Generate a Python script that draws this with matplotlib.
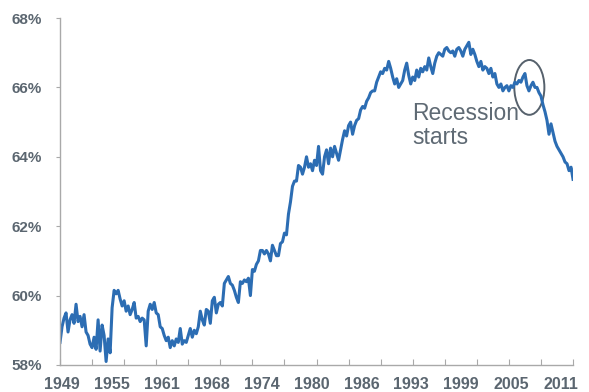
import matplotlib

matplotlib.use("Agg")
import matplotlib.pyplot as plt
import numpy as np
from matplotlib.patches import Ellipse

START_YEAR = 1948.75
rate = [
    58.65, 59.1, 59.35, 59.5, 58.95, 59.3, 59.45, 59.2, 59.75, 59.25,
    59.4, 59.1, 59.45, 58.95, 58.85, 58.6, 58.5, 58.8, 58.45, 59.3,
    58.4, 59.15, 58.85, 58.1, 58.75, 58.35, 59.65, 60.15, 60.05, 60.15,
    59.9, 59.7, 59.85, 59.55, 59.7, 59.45, 59.6, 59.8, 59.35, 59.4,
    59.25, 59.35, 59.3, 58.55, 59.55, 59.75, 59.6, 59.8, 59.5, 59.45,
    59.1, 59.05, 58.85, 58.7, 58.8, 58.5, 58.7, 58.55, 58.75, 58.65,
    59.05, 58.6, 58.7, 58.65, 58.85, 59.05, 58.8, 59.0, 58.9, 59.1,
    59.55, 59.3, 59.15, 59.6, 59.55, 59.2, 59.85, 59.95, 59.5, 59.75,
    59.8, 59.7, 60.35, 60.45, 60.55, 60.35, 60.3, 60.15, 59.95, 59.8,
    60.4, 60.35, 60.45, 60.4, 60.5, 60.0, 60.75, 60.7, 60.9, 61.0,
    61.3, 61.3, 61.2, 61.3, 61.2, 61.0, 61.45, 61.3, 61.15, 61.15,
    61.5, 61.55, 61.8, 61.75, 62.35, 62.7, 63.15, 63.3, 63.3, 63.75,
    63.7, 63.5, 63.7, 64.0, 63.7, 63.8, 63.6, 63.9, 63.75, 64.3,
    63.6, 63.5, 64.0, 64.2, 63.8, 64.25, 64.0, 64.3, 64.1, 63.9,
    64.2, 64.5, 64.75, 64.6, 64.9, 65.0, 64.65, 64.9, 65.05, 65.1,
    65.35, 65.45, 65.4, 65.6, 65.7, 65.85, 65.9, 65.9, 66.15, 66.3,
    66.45, 66.4, 66.55, 66.5, 66.75, 66.55, 66.3, 66.1, 66.25, 66.0,
    66.1, 66.2, 66.5, 66.7, 66.35, 66.1, 66.3, 66.2, 66.5, 66.3,
    66.55, 66.45, 66.6, 66.5, 66.85, 66.6, 66.4, 66.7, 66.9, 67.0,
    66.95, 66.9, 67.1, 67.15, 67.05, 67.0, 67.05, 66.9, 67.1, 67.15,
    67.05, 66.9, 67.1, 67.2, 67.3, 66.95, 67.1, 66.95, 66.75, 66.6,
    66.75, 66.5, 66.6, 66.55, 66.4, 66.55, 66.3, 66.4, 66.1, 66.0,
    66.1, 65.9, 66.0, 66.05, 65.9, 66.05, 66.0, 66.15, 66.1, 66.2,
    66.15, 66.3, 66.4, 66.05, 65.9, 66.05, 66.15, 66.0, 66.0, 65.85,
    65.75, 65.5, 65.3, 65.05, 64.65, 64.95, 64.7, 64.45, 64.3, 64.2,
    64.1, 64.0, 63.85, 63.8, 63.6, 63.7, 63.35,
]
year_labels = ["1949", "1955", "1961", "1968", "1974", "1980",
               "1986", "1993", "1999", "2005", "2011"]
y_ticks = [58, 60, 62, 64, 66, 68]

# the circled "recession starts" spot
RECESSION_YEAR = 2007.3
RECESSION_RATE = 66.0

years = START_YEAR + 0.25 * np.arange(len(rate))

GREY = "#5b6670"
AXIS = "#a9a9a9"

plt.rcParams["font.family"] = ["Liberation Sans", "DejaVu Sans"]

fig = plt.figure(figsize=(5.89, 3.92), dpi=100)
ax = fig.add_axes([0.1019, 0.069, 0.8710, 0.885])

ax.plot(years, rate, color="#2c6db3", lw=2.2, solid_joinstyle="round")

ax.set_xlim(years[0], years[-1])
ax.set_ylim(58, 68)

for s in ["top", "right"]:
    ax.spines[s].set_visible(False)
for s in ["left", "bottom"]:
    ax.spines[s].set_color(AXIS)
    ax.spines[s].set_linewidth(1.0)

ax.set_yticks(y_ticks, [f"{v}%" for v in y_ticks])
ax.tick_params(axis="y", direction="out", length=3, color=AXIS, pad=10,
               labelsize=11, labelcolor=GREY)

# tick marks and year labels sit at different spacings, as in the Excel chart
ax.set_xticks(np.linspace(years[0], years[-1], 17), [""] * 17)
ax.tick_params(axis="x", which="major", direction="in", length=4, color=AXIS)
ax.set_xticks(np.linspace(1949.0, 2011.25, len(year_labels)), year_labels, minor=True)
ax.tick_params(axis="x", which="minor", length=0, pad=9, labelsize=11.5, labelcolor=GREY)
for lab in ax.get_xticklabels(minor=True) + ax.get_yticklabels():
    lab.set_fontweight("bold")

ax.add_patch(Ellipse((RECESSION_YEAR, RECESSION_RATE), 3.75, 1.58, fill=False,
                     ec="#56616c", lw=1.4))
ax.text(1992.7, 65.58, "Recession\nstarts", color="#5f6a74", fontsize=16.5,
        va="top", ha="left", linespacing=1.05)

fig.savefig("out.png", dpi=100)
